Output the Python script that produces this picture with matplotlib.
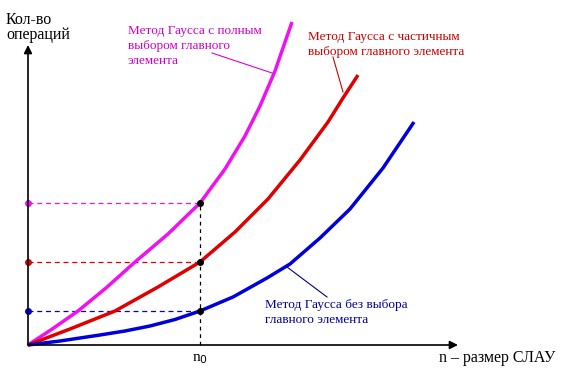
import matplotlib
matplotlib.use("Agg")
import matplotlib.pyplot as plt

plt.rcParams['font.family'] = ['Liberation Serif', 'DejaVu Serif']

# кривые (n, кол-во операций), схематично
full_n = [0, 25, 50, 78, 107, 140, 172, 197, 217, 232, 247, 264]
full_ops = [0, 16.5, 34, 57, 83, 111, 142, 176, 209, 239, 274, 323]

part_n = [0, 42, 87, 130, 172, 207, 240, 272, 300, 315, 330]
part_ops = [0, 16, 34, 58, 83, 113, 146, 185, 223, 247, 270]

none_n = [0, 32, 72, 97, 122, 147, 172, 205, 239, 262, 292, 322, 355, 386]
none_ops = [0, 4, 10, 14, 19, 25.5, 34, 48, 67, 81, 107, 136, 177, 223]

n0 = 172
levels = [142, 83, 34]
colors = ['#f010f0', '#e00000', '#0000dd']

fig = plt.figure(figsize=(5.65, 3.78), dpi=100)
ax = fig.add_axes([0, 0, 1, 1])
ax.set_xlim(-28, 537)
ax.set_ylim(-33, 345)
ax.axis('off')

# оси со стрелками
ax.annotate('', xy=(0, 300), xytext=(0, 0),
            arrowprops=dict(arrowstyle='-|>', color='black', lw=1.2,
                            mutation_scale=12, shrinkA=0, shrinkB=0))
ax.annotate('', xy=(430, 0), xytext=(0, 0),
            arrowprops=dict(arrowstyle='-|>', color='black', lw=1.2,
                            mutation_scale=12, shrinkA=0, shrinkB=0))

# пунктир к n0
ax.plot([n0, n0], [0, levels[0]], ls=(0, (3, 3)), color='black', lw=0.9)
for lv, c in zip(levels, colors):
    ax.plot([0, n0], [lv, lv], ls=(0, (4, 3)), color=c, lw=0.9)
    ax.plot(0, lv, 'o', color=c, ms=4)

for xs, ys, c in [(full_n, full_ops, colors[0]),
                  (part_n, part_ops, colors[1]),
                  (none_n, none_ops, colors[2])]:
    ax.plot(xs, ys, color=c, lw=2.5, solid_capstyle='butt',
            solid_joinstyle='round')

for lv in levels:
    ax.plot(n0, lv, 'o', color='black', ms=4)

# выноски
ax.plot([184, 244], [292, 272], color='#dd00dd', lw=0.8)
ax.plot([305, 315], [288, 253], color='#cc0000', lw=0.8)
ax.plot([259, 299], [78, 48], color='#000080', lw=0.8)

fs = 9.5
ax.text(-22, 333, 'Кол-во\nопераций', fontsize=11.5, va='top',
        linespacing=0.9)
ax.text(100, 320, 'Метод Гаусса с полным\nвыбором главного\nэлемента',
        color='#cc00cc', fontsize=fs, va='top', linespacing=1.33)
ax.text(280, 314, 'Метод Гаусса с частичным\nвыбором главного элемента',
        color='#cc0000', fontsize=fs, va='top', linespacing=1.33)
ax.text(237, 46, 'Метод Гаусса без выбора\nглавного элемента',
        color='#000099', fontsize=fs, va='top', linespacing=1.33)
ax.text(n0, -7, 'n$_0$', fontsize=11, ha='center', va='top')
ax.text(411, -5, 'n – размер СЛАУ', fontsize=11.5, va='top')

fig.savefig('out.png', dpi=100)
